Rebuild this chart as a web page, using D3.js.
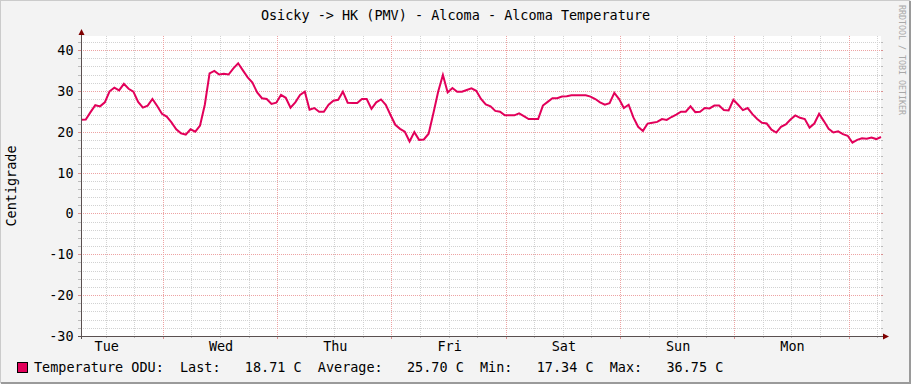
<!DOCTYPE html>
<html>
<head>
<meta charset="utf-8">
<script src="https://cdn.jsdelivr.net/npm/d3@7"></script>
<style>
  html, body { margin: 0; padding: 0; background: #F3F3F3; }
  svg { display: block; }
  text { font-family: "DejaVu Sans Mono", monospace; }
</style>
</head>
<body>
<svg id="chart" width="911" height="384"></svg>
<script>
// ---------- data ----------
const title = "Osicky -> HK (PMV) - Alcoma - Alcoma Temperature";
const yAxisLabel = "Centigrade";
const watermark = "RRDTOOL / TOBI OETIKER";
const startTime = "2024-01-02T06:48:00Z";   // Tue, graph covers one week
const stepHours = 1;
const temperature = [
  22.9, 23.0, 24.8, 26.5, 26.2, 27.2, 29.9, 30.8, 30.1, 31.7,
  30.5, 29.8, 27.3, 25.9, 26.4, 28.0, 26.3, 24.4, 23.7, 22.3,
  20.6, 19.6, 19.3, 20.6, 20.0, 21.5, 26.6, 34.3, 34.9, 34.0,
  34.2, 34.0, 35.5, 36.75, 35.0, 33.3, 32.0, 29.6, 28.2, 28.0,
  26.8, 27.1, 29.0, 28.3, 25.9, 27.2, 29.0, 29.8, 25.4, 25.8,
  24.9, 24.9, 26.6, 27.6, 27.8, 29.8, 27.1, 27.0, 27.0, 28.0,
  28.0, 25.6, 27.2, 27.9, 26.6, 24.1, 21.7, 20.7, 20.0, 17.6,
  19.9, 18.0, 18.1, 19.5, 24.5, 29.8, 33.9, 29.6, 30.7, 29.8,
  29.8, 30.2, 30.6, 30.0, 28.0, 26.7, 26.2, 25.1, 24.9, 24.0,
  24.0, 24.0, 24.5, 23.8, 23.1, 23.1, 23.1, 26.4, 27.3, 28.2,
  28.2, 28.6, 28.7, 28.9, 28.9, 28.9, 28.9, 28.6, 28.0, 27.2,
  26.6, 27.0, 29.5, 28.0, 25.8, 26.6, 23.5, 21.2, 20.2, 22.0,
  22.2, 22.4, 23.1, 22.9, 23.6, 24.2, 24.9, 24.9, 26.2, 24.8,
  24.9, 25.8, 25.7, 26.4, 26.4, 25.3, 25.2, 27.8, 26.6, 25.3,
  25.8, 24.3, 23.1, 22.2, 22.0, 20.5, 19.8, 21.2, 21.8, 23.0,
  24.0, 23.4, 23.1, 21.0, 22.0, 24.4, 22.6, 20.7, 19.8, 20.1,
  19.4, 19.0, 17.34, 18.0, 18.4, 18.3, 18.6, 18.2, 18.71
];
const yTicks = [-30, -20, -10, 0, 10, 20, 30, 40];
const yMinorStep = 2;
const seriesName = "Temperature ODU:";
const legendStats = [["Last:", "18.71 C"], ["Average:", "25.70 C"], ["Min:", "17.34 C"], ["Max:", "36.75 C"]];

// ---------- layout ----------
const W = 911, H = 384;
const X0 = 81, X1 = 881, Y0 = 336, YTOP = 36;
const lineColor = "#E2005A";

const svg = d3.select("#chart");
const t0 = new Date(startTime);
const t1 = d3.utcHour.offset(t0, 168);
const x = d3.scaleUtc().domain([t0, t1]).range([X0, X1]);
const y = d3.scaleLinear().domain([-30, 40]).range([Y0, 50]);

// background + 3D border
svg.append("rect").attr("width", W).attr("height", H).attr("fill", "#F3F3F3");
svg.append("path").attr("d", `M0,${H-1}V0H${W-1}`).attr("fill", "none").attr("stroke", "#CBCBCB").attr("stroke-width", 2);
svg.append("path").attr("d", `M1,${H-1}H${W-1}V1`).attr("fill", "none").attr("stroke", "#9A9A9A").attr("stroke-width", 2);

// canvas
svg.append("rect").attr("x", X0).attr("y", YTOP).attr("width", X1 - X0).attr("height", Y0 - YTOP).attr("fill", "#FFFFFF");

const yTop = y.invert(YTOP);
const minorY = d3.range(-30, yTop, yMinorStep).filter(v => v % 10 !== 0);
const majorY = d3.range(-30, yTop, 10);
const minorX = d3.utcHour.every(6).range(t0, t1).filter(d => d.getUTCHours() !== 0);
const majorX = d3.utcDay.range(t0, t1);
const labelX = d3.utcDay.range(d3.utcDay.floor(t0), t1).map(d => d3.utcHour.offset(d, 12)).filter(d => d >= t0 && d <= t1);

const gridMinor = "#D2D2D2", gridMajor = "#EDA3A3";
const g = svg.append("g");
// horizontal grid
g.selectAll(".hm").data(minorY).join("line")
  .attr("x1", X0).attr("x2", X1).attr("y1", d => Math.round(y(d)) + 0.5).attr("y2", d => Math.round(y(d)) + 0.5)
  .attr("stroke", gridMinor).attr("stroke-dasharray", "1,1");
g.selectAll(".hmt").data(minorY).join("path")
  .attr("d", d => { const yy = Math.round(y(d)) + 0.5; return `M${X0-3},${yy}H${X0}M${X1},${yy}H${X1+2}`; })
  .attr("stroke", "#BBBBBB");
// vertical grid
g.selectAll(".vm").data(minorX).join("line")
  .attr("x1", d => Math.round(x(d)) + 0.5).attr("x2", d => Math.round(x(d)) + 0.5).attr("y1", YTOP).attr("y2", Y0)
  .attr("stroke", gridMinor).attr("stroke-dasharray", "1,1");
g.selectAll(".vmt").data(minorX).join("path")
  .attr("d", d => { const xx = Math.round(x(d)) + 0.5; return `M${xx},${Y0}V${Y0+2}`; })
  .attr("stroke", "#BBBBBB");
g.selectAll(".hM").data(majorY).join("line")
  .attr("x1", X0).attr("x2", X1).attr("y1", d => Math.round(y(d)) + 0.5).attr("y2", d => Math.round(y(d)) + 0.5)
  .attr("stroke", gridMajor).attr("stroke-dasharray", "1,1");
g.selectAll(".hMt").data(majorY).join("path")
  .attr("d", d => { const yy = Math.round(y(d)) + 0.5; return `M${X0-3},${yy}H${X0}M${X1},${yy}H${X1+2}`; })
  .attr("stroke", "#D99090");
g.selectAll(".vM").data(majorX).join("line")
  .attr("x1", d => Math.round(x(d)) + 0.5).attr("x2", d => Math.round(x(d)) + 0.5).attr("y1", YTOP).attr("y2", Y0)
  .attr("stroke", gridMajor).attr("stroke-dasharray", "1,1");
g.selectAll(".vMt").data(majorX).join("path")
  .attr("d", d => { const xx = Math.round(x(d)) + 0.5; return `M${xx},${Y0}V${Y0+3}`; })
  .attr("stroke", "#D99090");

// y tick labels
svg.selectAll(".yl").data(yTicks).join("text")
  .attr("x", 73.5).attr("y", d => y(d) + 5)
  .attr("text-anchor", "end").attr("font-size", "13.47px").attr("fill", "#000")
  .text(d => d);

// x labels
svg.selectAll(".xl").data(labelX).join("text")
  .attr("x", d => x(d) + 1).attr("y", 351)
  .attr("text-anchor", "middle").attr("font-size", "13.47px").attr("fill", "#000")
  .text(d => d3.utcFormat("%a")(d));

// data line
const line = d3.line()
  .x((d, i) => x(d3.utcHour.offset(t0, i * stepHours)))
  .y(d => y(d));
svg.append("path").datum(temperature)
  .attr("d", line).attr("fill", "none").attr("stroke", lineColor)
  .attr("stroke-width", 2).attr("stroke-linejoin", "miter");

// axes
svg.append("path").attr("d", `M${X0 - 3},${Y0 + 0.5}H${X1 + 3}`).attr("stroke", "#5A5050").attr("stroke-width", 1);
svg.append("path").attr("d", `M${X0 + 0.5},${Y0 + 3}V${YTOP - 3}`).attr("stroke", "#5A5050").attr("stroke-width", 1);
// arrows
svg.append("path").attr("d", `M${X0 - 2.5},${YTOP - 1}L${X0 + 3.5},${YTOP - 1}L${X0 + 0.5},${YTOP - 7}Z`).attr("fill", "#7F0000");
svg.append("path").attr("d", `M${X1 + 2},${Y0 - 2.5}L${X1 + 2},${Y0 + 3.5}L${X1 + 8},${Y0 + 0.5}Z`).attr("fill", "#7F0000");

// title
svg.append("text").attr("x", W / 2).attr("y", 20).attr("text-anchor", "middle")
  .attr("font-size", "13.47px").attr("fill", "#000").text(title);

// y-axis label
svg.append("text").attr("transform", `translate(16,${(Y0 + YTOP) / 2}) rotate(-90)`)
  .attr("text-anchor", "middle").attr("font-size", "13.47px").attr("fill", "#000").text(yAxisLabel);

// watermark
svg.append("text").attr("transform", `translate(899,5) rotate(90)`)
  .attr("text-anchor", "start").attr("font-size", "8.3px").attr("fill", "#A8A8A8").text(watermark);

// legend
svg.append("rect").attr("x", 17.5).attr("y", 362.5).attr("width", 10).attr("height", 10)
  .attr("fill", lineColor).attr("stroke", "#000").attr("stroke-width", 1);
let legendStr = seriesName + "  ";
legendStats.forEach(([k, v], i) => {
  legendStr += k + "   " + v + (i < legendStats.length - 1 ? "  " : "");
});
svg.append("text").attr("x", 34).attr("y", 372).attr("font-size", "13.47px").attr("fill", "#000")
  .style("white-space", "pre").text(legendStr);
</script>
</body>
</html>
